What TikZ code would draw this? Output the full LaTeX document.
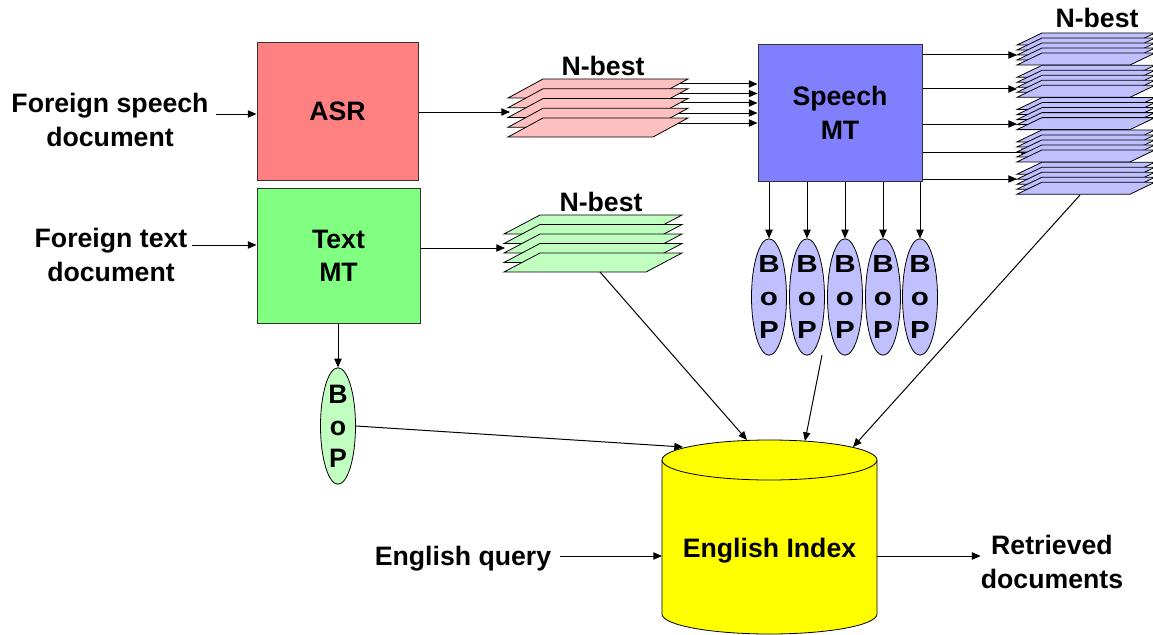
\documentclass[tikz,border=0pt]{standalone}
\usepackage{fontspec}
\setmainfont{Liberation Sans}
\newfontfamily\widesans{Liberation Sans}[FakeStretch=1.2]
\usetikzlibrary{arrows.meta,shapes.geometric}
\definecolor{asrc}{HTML}{FF8080}
\definecolor{tmtc}{HTML}{80FF80}
\definecolor{smtc}{HTML}{8080FF}
\definecolor{pinks}{HTML}{FFC0C0}
\definecolor{greens}{HTML}{C0FFC0}
\definecolor{blues}{HTML}{C0C0FF}
\definecolor{cyl}{HTML}{FFFF00}
\begin{document}
\begin{tikzpicture}[x=0.75pt,y=-0.75pt,
  lbl/.style={font=\fontsize{20}{25}\selectfont\bfseries, inner sep=0pt, align=center},
  arr/.style={-{Triangle[length=6.5pt,width=5.5pt]}, line width=0.75pt},
  ln/.style={line width=0.6pt},
  box/.style={draw=black!80, line width=0.75pt, inner sep=0pt, font=\fontsize{20}{25}\selectfont\bfseries, align=center},
  bop/.style={ellipse, draw=black, line width=0.6pt, minimum width=26.25pt, minimum height=78.75pt, inner sep=0pt, align=center, font=\fontsize{20}{24}\selectfont\bfseries},
  bopwide/.style={bop, font=\widesans\fontsize{18.5}{24.5}\selectfont\bfseries}
]
\useasboundingbox (0,0) rectangle (1153,635);

% boxes
\node[box, fill=asrc, minimum width=120.75pt, minimum height=102.75pt] (asr) at (337.5,111.5) {ASR};
\node[box, fill=tmtc, minimum width=122.25pt, minimum height=101.25pt] (tmt) at (338.5,255.5) {Text\\MT};
\node[box, fill=smtc, minimum width=123pt, minimum height=102pt] (smt) at (840,113) {Speech\\MT};

% input labels
\node[lbl] (fs) at (110,120) {Foreign speech\\document};
\node[lbl] (ft) at (111,255) {Foreign text\\document};
\coordinate (fsout) at (216,114);
\coordinate (ftout) at (192,245);
\draw[arr] (fsout) -- (fsout -| asr.west);
\draw[arr] (ftout) -- (ftout -| tmt.west);

% pink N-best
\foreach \y in {84,93.5,103,113,123} \draw[arr] (660,\y) -- (smt.west |- 0,\y);
\foreach \i in {0,...,4} {
  \pgfmathsetmacro\yy{98+9.75*\i}
  \filldraw[fill=pinks, draw=black, ln] (508,\yy) -- ++(145,0) -- ++(35,-19) -- ++(-145,0) -- cycle;
}
\node[lbl, anchor=base] (nb1) at (603,75) {N-best};
\coordinate (pinkin) at (510,112);
\draw[arr] (asr.east |- pinkin) -- (pinkin);

% green N-best
\foreach \i in {0,...,4} {
  \pgfmathsetmacro\yy{234+9.5*\i}
  \filldraw[fill=greens, draw=black, ln] (504,\yy) -- ++(142,0) -- ++(36,-19) -- ++(-142,0) -- cycle;
}
\node[lbl, anchor=base] (nb2) at (601,211) {N-best};
\coordinate (grnin) at (505,248);
\draw[arr] (tmt.east |- grnin) -- (grnin);

% blue N-best
\draw[arr] (smt.east |- 0,152) -- (1030,152);
\foreach \g in {0,...,4} {
  \foreach \i in {0,...,4} {
    \pgfmathsetmacro\yy{45+32.3*\g+5*\i}
    \filldraw[fill=blues, draw=black, ln] (1017,\yy) -- ++(113,0) -- ++(25,-12) -- ++(-113,0) -- cycle;
  }
}
\foreach \y in {55,89,124,179} \draw[arr] (smt.east |- 0,\y) -- (1017,\y);
\node[lbl, anchor=base] (nb3) at (1097,28) {N-best};

% BoP ellipses
\foreach \n/\x in {1/769,2/807,3/845,4/883,5/920} {
  \node[bopwide, fill=blues] (b\n) at (\x,297) {B\\o\\P};
  \draw[arr] (smt.south -| b\n) -- (b\n.north);
}
\node[bop, fill=greens, minimum height=80pt] (gb) at (338,426) {B\\o\\P};
\draw[arr] (tmt.south -| gb) -- (gb.north);

% cylinder
\filldraw[fill=cyl, draw=black, ln] (662,460) -- (662,614)
  arc[start angle=180, end angle=360, x radius=80.625pt, y radius=15pt] -- (877,460)
  arc[start angle=0, end angle=180, x radius=80.625pt, y radius=15pt] -- cycle;
\draw[ln] (662,460) arc[start angle=180, end angle=360, x radius=80.625pt, y radius=15pt];
\node[lbl, anchor=base] (idx) at (769.5,557) {English Index};
\coordinate (idxw) at (662,556);
\coordinate (idxe) at (877,556);

% to index
\coordinate (grnout) at (600,272);
\coordinate (c1) at (747,440);
\draw[arr] (grnout) -- (c1);
\coordinate (bopout) at (822,355);
\coordinate (c2) at (805,441);
\draw[arr] (bopout) -- (c2);
\coordinate (blueout) at (1080,195);
\coordinate (c3) at (853,447);
\draw[arr] (blueout) -- (c3);
\coordinate (c0) at (683,447);
\draw[arr] (gb.east) -- (c0);

% query and result
\node[lbl, anchor=base] (q) at (463,565) {English query};
\coordinate (qout) at (560,556);
\draw[arr] (qout) -- (idxw);
\node[lbl] (ret) at (1052,562) {Retrieved\\documents};
\draw[arr] (idxe) -- (ret.west |- idxe);
\end{tikzpicture}
\end{document}
